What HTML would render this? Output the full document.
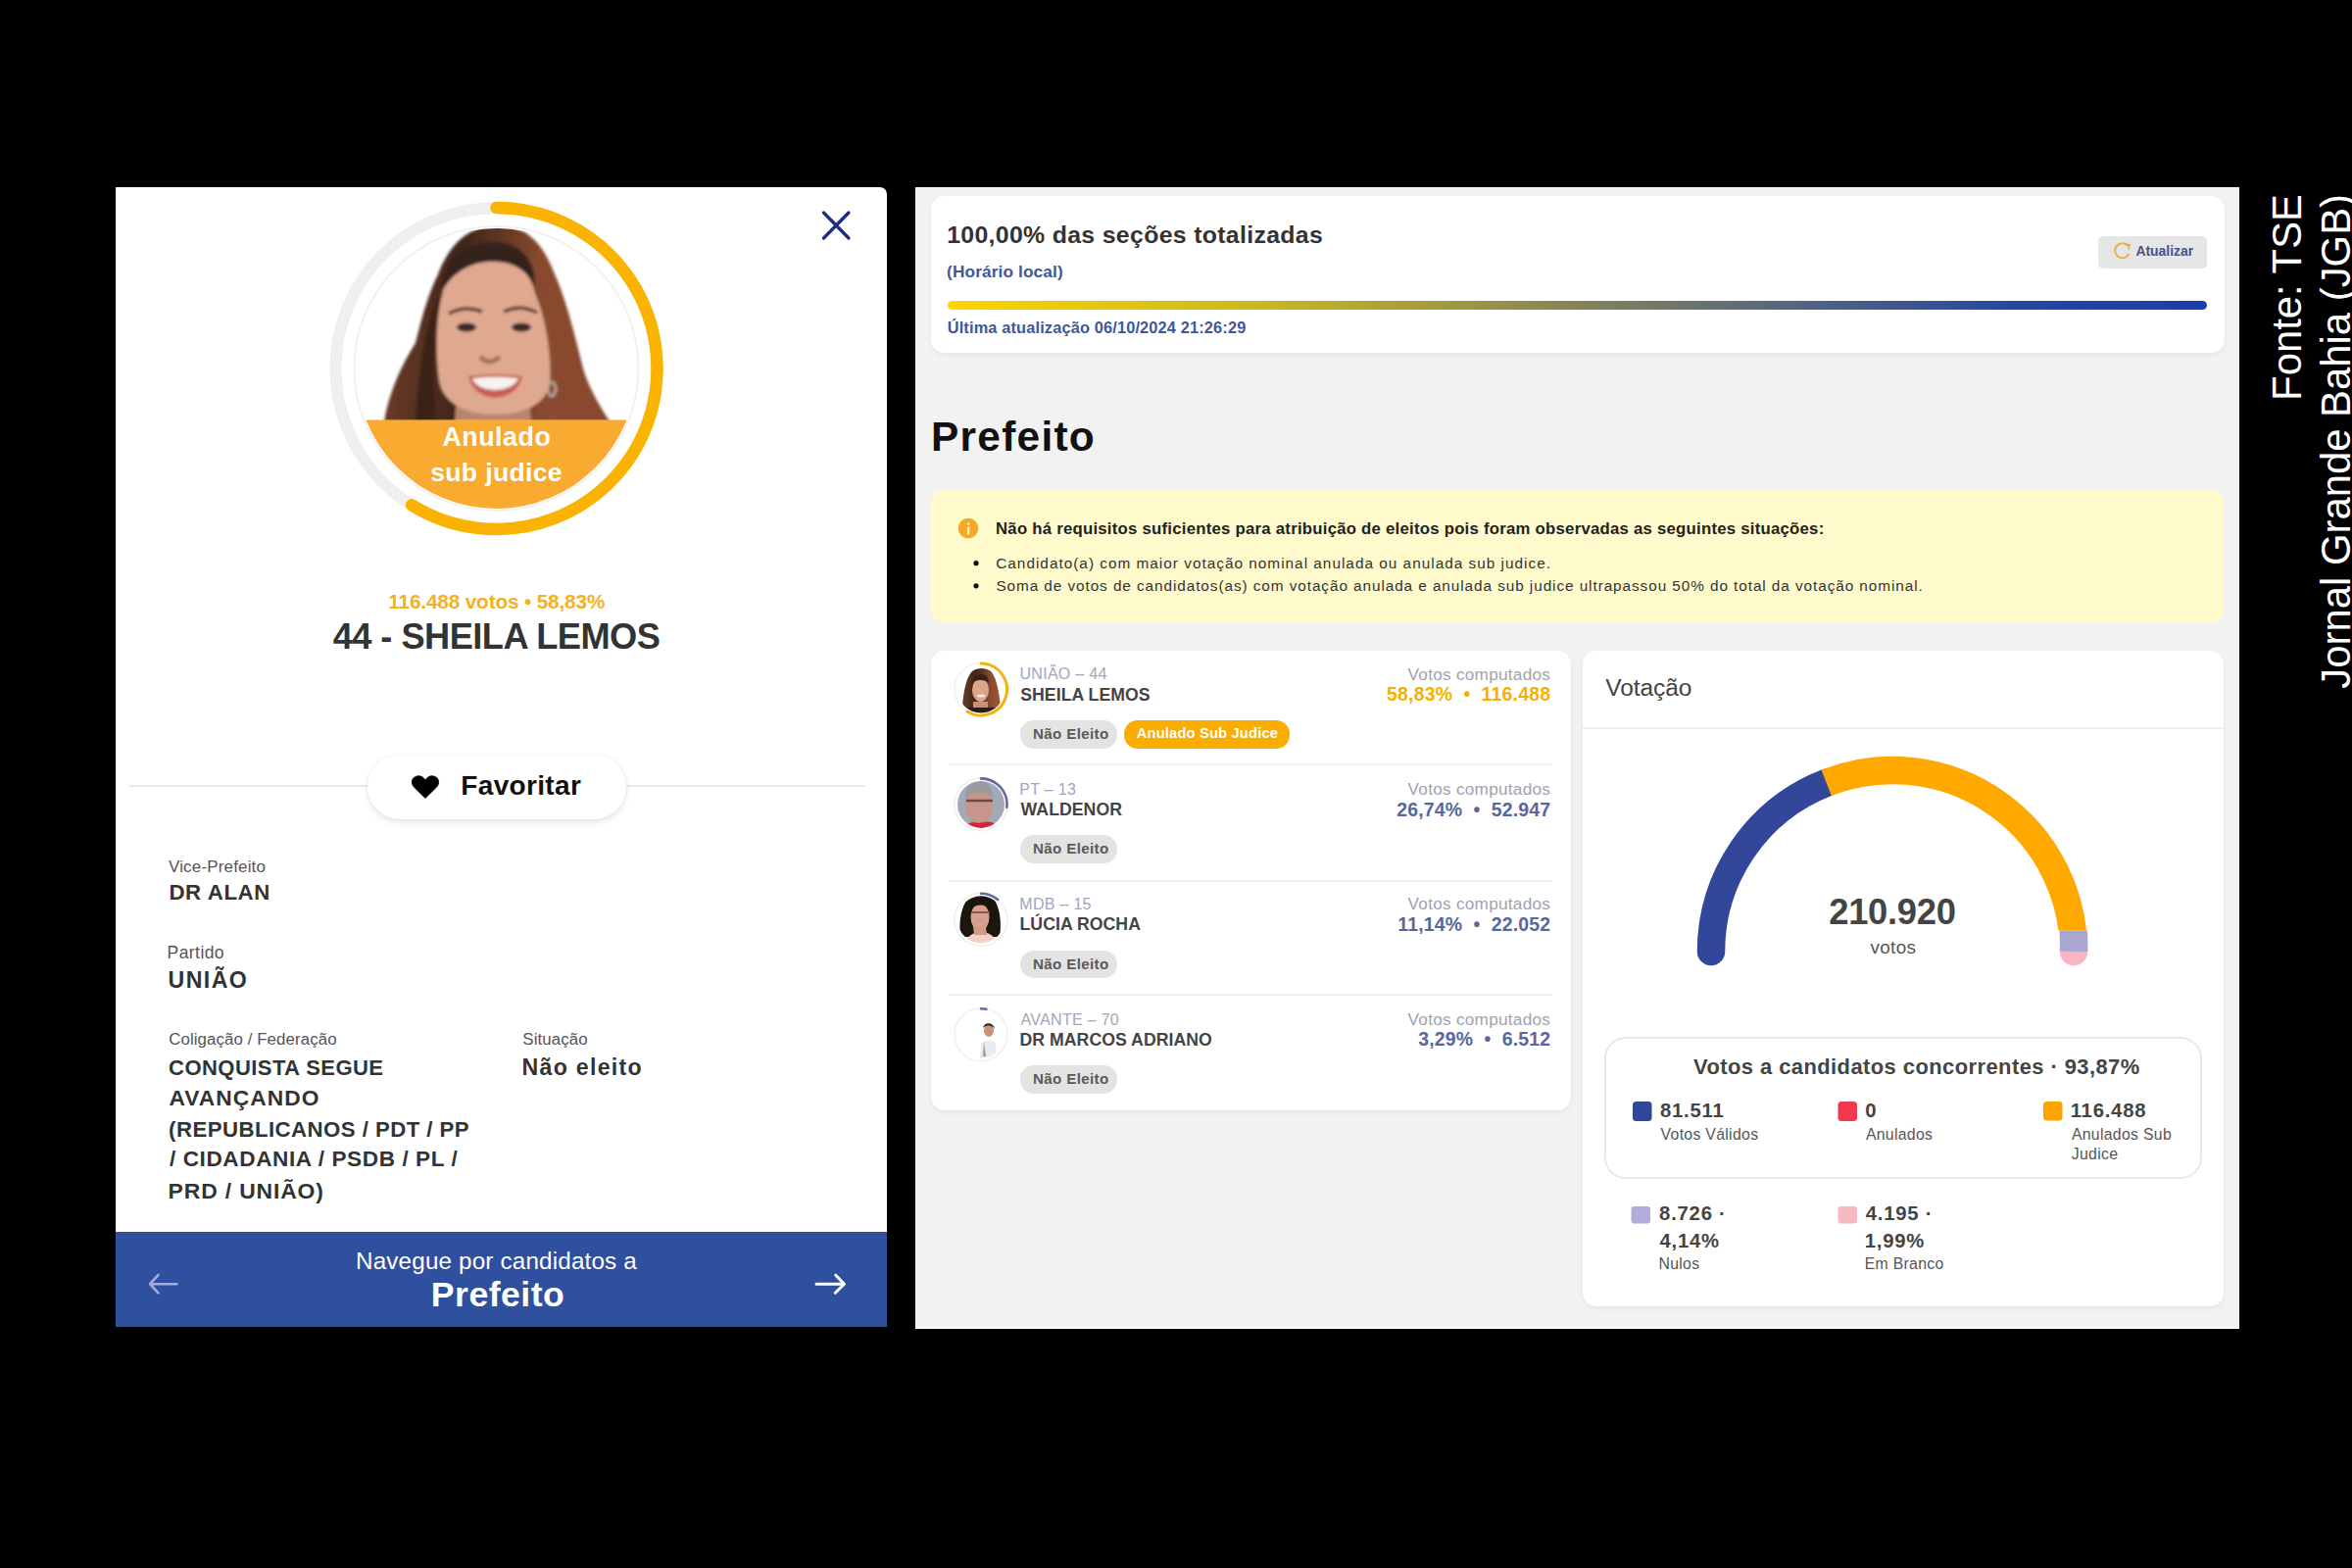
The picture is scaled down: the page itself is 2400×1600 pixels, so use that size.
<!DOCTYPE html>
<html><head><meta charset="utf-8">
<style>
html,body{margin:0;padding:0;width:2400px;height:1600px;overflow:hidden;background:#000;font-family:"Liberation Sans",sans-serif}
.t{position:absolute;white-space:pre;font-family:"Liberation Sans",sans-serif}
.a{position:absolute}
</style></head><body>
<!-- LEFT PANEL -->
<div class="a" style="left:118px;top:191px;width:787px;height:1163px;background:#fff;border-top-right-radius:7px"></div>
<div class="a" style="left:118px;top:1257px;width:787px;height:97px;background:#2f4f9f"></div>
<div class="a" style="left:132px;top:801px;width:751px;height:2px;background:#e9e9e9"></div>
<div class="a" style="left:375px;top:770px;width:264px;height:66px;background:#fff;border-radius:33px;box-shadow:0 3px 7px rgba(0,0,0,0.10),0 0 3px rgba(0,0,0,0.05)"></div>

<!-- RIGHT PANEL -->
<div class="a" style="left:934px;top:191px;width:1351px;height:1165px;background:#f2f2f2;box-sizing:border-box;border-right:1.5px solid #fbfbfb;border-bottom:1.5px solid #fbfbfb"></div>
<div class="a" style="left:950px;top:200px;width:1320px;height:159.5px;background:#fff;border-radius:14px;box-shadow:0 2px 5px rgba(0,0,0,0.06)"></div>
<div class="a" style="left:2141px;top:241px;width:111px;height:33px;background:#e6e6e6;border-radius:5px"></div>
<div class="a" style="left:967px;top:306.5px;width:1285px;height:9.5px;border-radius:5px;background:linear-gradient(90deg,#ffd400 0%,#c9b81e 25%,#8a8752 48%,#4d6088 70%,#2447a0 85%,#1a3eab 100%)"></div>
<div class="a" style="left:950px;top:500px;width:1319px;height:134.5px;background:#fffacb;border-radius:12px"></div>
<div class="a" style="left:950px;top:664px;width:653px;height:468.5px;background:#fff;border-radius:14px;box-shadow:0 2px 5px rgba(0,0,0,0.06)"></div>
<div class="a" style="left:968px;top:778.5px;width:616px;height:2px;background:#f0f0f0"></div>
<div class="a" style="left:968px;top:898px;width:616px;height:2px;background:#f0f0f0"></div>
<div class="a" style="left:968px;top:1014px;width:616px;height:2px;background:#f0f0f0"></div>
<div class="a" style="left:1041px;top:735px;width:99px;height:28.5px;background:#e3e3e3;border-radius:14px"></div>
<div class="a" style="left:1147px;top:735px;width:169px;height:28.5px;background:#f9ad00;border-radius:14px"></div>
<div class="a" style="left:1041px;top:852.4px;width:99px;height:28.5px;background:#e3e3e3;border-radius:14px"></div>
<div class="a" style="left:1041px;top:969.8px;width:99px;height:28.5px;background:#e3e3e3;border-radius:14px"></div>
<div class="a" style="left:1041px;top:1087.2px;width:99px;height:28.5px;background:#e3e3e3;border-radius:14px"></div>
<div class="a" style="left:1615px;top:664px;width:654px;height:669px;background:#fff;border-radius:14px;box-shadow:0 2px 5px rgba(0,0,0,0.06)"></div>
<div class="a" style="left:1615px;top:741.5px;width:654px;height:2px;background:#ececec"></div>
<div class="a" style="left:1636.5px;top:1057.8px;width:606.5px;height:141.5px;border:2px solid #e9e9e9;border-radius:22px"></div>

<svg class="a" style="left:0;top:0" width="2400" height="1600" viewBox="0 0 2400 1600">
<defs>
  <clipPath id="bigc"><circle cx="506.5" cy="376" r="143"/></clipPath>
  <clipPath id="c0"><circle cx="1001" cy="703.5" r="24"/></clipPath>
  <clipPath id="c1"><circle cx="1001" cy="820.9" r="24"/></clipPath>
  <clipPath id="c2"><circle cx="1001" cy="938.3" r="24"/></clipPath>
  <clipPath id="c3"><circle cx="1001" cy="1055.7" r="24"/></clipPath>
  <clipPath id="gtop"><rect x="1700" y="700" width="500" height="249.6"/></clipPath>
  <clipPath id="gmid"><rect x="2050" y="949.6" width="120" height="21.4"/></clipPath>
  <filter id="soft" x="-10%" y="-10%" width="120%" height="120%"><feGaussianBlur stdDeviation="1.6"/></filter>
  <filter id="soft2" x="-10%" y="-10%" width="120%" height="120%"><feGaussianBlur stdDeviation="0.6"/></filter>
  <linearGradient id="hairg" x1="0" y1="0" x2="1" y2="0">
    <stop offset="0" stop-color="#6a3a26"/><stop offset="0.35" stop-color="#3e2419"/><stop offset="0.7" stop-color="#874a2e"/><stop offset="1" stop-color="#a05a38"/>
  </linearGradient>
</defs>
<!-- close X -->
<path d="M840.5,217 L866,243 M866,217 L840.5,243" stroke="#1f2e7c" stroke-width="3.3" stroke-linecap="round" fill="none"/>
<!-- big avatar ring -->
<circle cx="506.5" cy="376" r="164" fill="none" stroke="#efefef" stroke-width="12"/>
<circle cx="506.5" cy="376" r="145" fill="none" stroke="#f1f1f1" stroke-width="2"/>
<path d="M506.50,212.00 A164,164 0 1 1 420.08,515.38" fill="none" stroke="#f9b300" stroke-width="12.5" stroke-linecap="round"/>
<g clip-path="url(#bigc)">
<g filter="url(#soft)">
  <path d="M392,430 C397,400 410,372 424,350 C431,322 437,300 447,280 C458,250 478,231 505,230 C532,229 552,242 566,280 C580,312 588,350 596,380 C604,402 613,416 622,430 Z" fill="url(#hairg)"/>
  <path d="M466,405 L464,430 L542,430 L540,405 Z" fill="#b98470"/>
  <path d="M452,298 C452,275 470,262 497,262 C525,262 542,278 546,300 C556,322 563,360 561,390 C558,412 536,423 505,423 C476,423 452,412 448,388 C444,360 445,322 452,298 Z" fill="#dfa98f"/>
  <path d="M450,300 C450,268 472,248 502,247 C528,246 546,262 546,292 C536,272 518,266 500,267 C476,268 458,282 450,300 Z" fill="#36201a"/>
  <path d="M541,262 C558,292 567,342 568,430 L622,430 C613,416 604,402 596,380 C588,350 580,312 566,280 C560,268 552,258 541,262 Z" fill="#88492d"/>
  <path d="M449,300 C442,330 440,380 446,430 L424,430 C427,380 434,330 449,300 Z" fill="#3a2018"/>
    <path d="M458,320 Q474,311 492,318" stroke="#5d3a2c" stroke-width="3.5" fill="none"/>
  <path d="M514,318 Q531,310 548,319" stroke="#5d3a2c" stroke-width="3.5" fill="none"/>
  <ellipse cx="476" cy="334" rx="10" ry="4.5" fill="#3a2a24"/>
  <ellipse cx="532" cy="334" rx="10" ry="4.5" fill="#3a2a24"/>
  <path d="M490,364 Q499,374 510,364" stroke="#a8705a" stroke-width="5" fill="none"/>
  <path d="M478,384 Q505,380 533,384 Q528,404 505,406 Q483,404 478,384 Z" fill="#c85c55"/>
  <path d="M482,386 Q505,383 529,386 Q524,397 505,398 Q486,397 482,386 Z" fill="#f8f2ee"/>
  <ellipse cx="563" cy="397" rx="4" ry="7" fill="none" stroke="#b8aca6" stroke-width="2.5"/>
  </g>
  <rect x="360" y="428.5" width="300" height="100" fill="#f8ab30"/>
</g>
<!-- heart -->
<path transform="translate(420,791.5)" d="M14,23 L2.6,11.8 C-1,8 -0.5,1.6 5.8,0.4 C9.6,-0.2 12.4,1.8 14,4.6 C15.6,1.8 18.4,-0.2 22.2,0.4 C28.5,1.6 29,8 25.4,11.8 Z" fill="#000" stroke="#000" stroke-width="0.8" stroke-linejoin="round"/>
<!-- footer arrows -->
<path d="M180.5,1310.2 H153.5 M161.5,1301 L153,1310.2 L161.5,1319.3" stroke="#a3acd8" stroke-width="2.6" fill="none" stroke-linecap="round" stroke-linejoin="round"/>
<path d="M833,1310.2 H861 M852.8,1301.2 L861.5,1310.2 L852.3,1319.3" stroke="#ffffff" stroke-width="3" fill="none" stroke-linecap="round" stroke-linejoin="round"/>
<!-- atualizar icon -->
<path d="M2171.5,251 A7.5,7.5 0 1 0 2172.5,259" fill="none" stroke="#e4b24a" stroke-width="2"/>
<path d="M2168.5,249 L2173,250 L2172,254.5" fill="none" stroke="#e4b24a" stroke-width="1.8"/>
<!-- info icon -->
<circle cx="988" cy="539" r="10.3" fill="#f5a828"/>
<rect x="987" y="537.5" width="2.4" height="8" fill="#fff6d8"/>
<circle cx="988.2" cy="534.6" r="1.3" fill="#fff6d8"/>
<circle cx="996" cy="574.7" r="2.6" fill="#111"/>
<circle cx="996" cy="597.8" r="2.6" fill="#111"/>
<!-- small avatars -->
<circle cx="1001" cy="703.5" r="27" fill="none" stroke="#f0f0f0" stroke-width="1.5"/>
<circle cx="1001" cy="820.9" r="27" fill="none" stroke="#f0f0f0" stroke-width="1.5"/>
<circle cx="1001" cy="938.3" r="27" fill="none" stroke="#f0f0f0" stroke-width="1.5"/>
<circle cx="1001" cy="1055.7" r="27" fill="none" stroke="#f0f0f0" stroke-width="1.5"/>
<g clip-path="url(#c0)">
<g filter="url(#soft2)">
  <path d="M982,728 C982,712 985,692 992,685 C997,681 1006,681 1011,685 C1018,692 1020,712 1022,728 Z" fill="url(#hairg)"/>
  <path d="M993,716 L993,728 L1008,728 L1008,716 Z" fill="#c99078"/>
  <ellipse cx="1000.5" cy="704" rx="8.5" ry="12" fill="#dca58c"/>
  <path d="M992,697 C993,690 997,688 1001,688 C1006,688 1009,691 1009,697 C1005,693 996,693 992,697 Z" fill="#3e2419"/>
  <ellipse cx="1001" cy="710" rx="4" ry="1.5" fill="#f4ece8"/>
  <rect x="985" y="722" width="32" height="8" fill="#2e1e1c"/>
</g></g>
<g clip-path="url(#c1)">
<g filter="url(#soft2)">
  <rect x="975" y="795" width="52" height="52" fill="#a3a9b6"/>
  <ellipse cx="999" cy="822" rx="14" ry="17" fill="#c8958a"/>
  <path d="M985,815 C985,802 992,797 999,797 C1007,797 1013,802 1013,815 C1009,806 990,806 985,815 Z" fill="#9a9aa0"/>
  <path d="M986,817 H1013" stroke="#6a4a40" stroke-width="2.5"/>
  <path d="M991,832 Q999,842 1008,832 L1008,840 Q999,846 991,840 Z" fill="#b89a8a"/>
  <path d="M980,847 C984,840 992,838 999,840 C1006,838 1014,836 1022,847 Z" fill="#d8203a"/>
</g></g>
<g clip-path="url(#c2)">
<g filter="url(#soft2)">
  <path d="M980,956 C978,940 981,922 990,915 C998,910 1008,911 1014,917 C1021,927 1022,944 1020,956 Z" fill="#1a1210"/>
  <ellipse cx="1000" cy="936" rx="9.5" ry="14" fill="#d79f8e"/>
  <path d="M990,928 C991,919 997,916 1001,916 C1007,916 1011,920 1011,928 C1005,922 996,922 990,928 Z" fill="#1a1210"/>
  <path d="M991,931 H1010" stroke="#8a5a46" stroke-width="2"/>
  <path d="M983,966 C986,955 993,951 1001,951 C1009,951 1016,955 1019,966 Z" fill="#f5cfc8"/>
  <path d="M993,946 L994,954 L1007,954 L1006,946 Z" fill="#d39a86"/>
</g></g>
<g clip-path="url(#c3)">
<g filter="url(#soft2)">
  <ellipse cx="1009" cy="1051.5" rx="5" ry="6.5" fill="#c89478"/>
  <path d="M1003.5,1049 C1003,1043 1014,1042 1015,1050 C1013,1046 1006,1045 1003.5,1049 Z" fill="#3a2a22"/>
  <path d="M1000,1080 L1001,1066 C1003,1060 1015,1060 1016,1066 L1017,1080 Z" fill="#ebeaee"/>
  <path d="M1004,1063 L1003,1078 L1006,1078 Z" fill="#9a9a9a"/>
</g></g>
<path d="M1001.00,677.00 A26.5,26.5 0 1 1 987.04,726.03" fill="none" stroke="#f2b510" stroke-width="3" stroke-linecap="round"/>
<path d="M1001.00,794.40 A26.5,26.5 0 0 1 1027.34,823.79" fill="none" stroke="#666b9e" stroke-width="2.6" stroke-linecap="round"/>
<path d="M1001.00,911.80 A26.5,26.5 0 0 1 1018.07,918.03" fill="none" stroke="#666b9e" stroke-width="2.6" stroke-linecap="round"/>
<path d="M1001.00,1029.20 A26.5,26.5 0 0 1 1006.44,1029.76" fill="none" stroke="#666b9e" stroke-width="2.6" stroke-linecap="round"/>
<!-- gauge -->
<path d="M1746.00,971.00 A185,185 0 0 1 1863.65,798.70" fill="none" stroke="#33479a" stroke-width="28.5" stroke-linecap="round"/>
<path d="M2115.99,969.39 A185,185 0 0 1 2116.00,971.00" fill="none" stroke="#f8b6c2" stroke-width="28.5" stroke-linecap="round"/>
<path d="M1863.65,798.70 A185,185 0 0 1 2116.00,971.00" fill="none" stroke="#ffa800" stroke-width="28.5" clip-path="url(#gtop)"/>
<path d="M2105,900 A185,185 0 0 1 2116.00,971.00" fill="none" stroke="#aaa6d2" stroke-width="28.5" clip-path="url(#gmid)"/>
<!-- legend squares -->
<rect x="1666" y="1124" width="19.5" height="20" rx="3.5" fill="#2e4796"/>
<rect x="1875.5" y="1124" width="19.5" height="20" rx="3.5" fill="#f0394f"/>
<rect x="2085" y="1124" width="19.5" height="19.5" rx="3.5" fill="#fea400"/>
<rect x="1664.5" y="1231" width="19.5" height="17.5" rx="3" fill="#b1addb"/>
<rect x="1875.5" y="1231" width="19.5" height="17.5" rx="3" fill="#f8b8c3"/>
</svg>

<div class="t" style="left:396.26px;top:604.38px;font-size:20.72px;line-height:20.72px;letter-spacing:-0.130px;font-weight:bold;color:#f4b11e">116.488 votos • 58,83%</div>
<div class="t" style="left:339.64px;top:631.90px;font-size:36.23px;line-height:36.23px;letter-spacing:-0.535px;font-weight:bold;color:#333333">44 - SHEILA LEMOS</div>
<div class="t" style="left:451.46px;top:433.24px;font-size:26.77px;line-height:26.77px;letter-spacing:0.547px;font-weight:bold;color:#ffffff">Anulado</div>
<div class="t" style="left:439.20px;top:469.01px;font-size:26.57px;line-height:26.57px;letter-spacing:0.343px;font-weight:bold;color:#ffffff">sub judice</div>
<div class="t" style="left:470.32px;top:788.25px;font-size:27.95px;line-height:27.95px;letter-spacing:0.368px;font-weight:bold;color:#111111">Favoritar</div>
<div class="t" style="left:172.00px;top:875.55px;font-size:17.00px;line-height:17.00px;letter-spacing:0.158px;font-weight:normal;color:#555555">Vice-Prefeito</div>
<div class="t" style="left:172.46px;top:900.38px;font-size:22.26px;line-height:22.26px;letter-spacing:0.592px;font-weight:bold;color:#333333">DR ALAN</div>
<div class="t" style="left:170.60px;top:964.42px;font-size:17.51px;line-height:17.51px;letter-spacing:0.427px;font-weight:normal;color:#555555">Partido</div>
<div class="t" style="left:171.61px;top:988.91px;font-size:23.17px;line-height:23.17px;letter-spacing:1.406px;font-weight:bold;color:#333333">UNIÃO</div>
<div class="t" style="left:172.16px;top:1053.37px;font-size:16.85px;line-height:16.85px;letter-spacing:0.094px;font-weight:normal;color:#555555">Coligação / Federação</div>
<div class="t" style="left:533.33px;top:1053.38px;font-size:16.85px;line-height:16.85px;letter-spacing:0.101px;font-weight:normal;color:#555555">Situação</div>
<div class="t" style="left:172.12px;top:1078.76px;font-size:22.05px;line-height:22.05px;letter-spacing:0.411px;font-weight:bold;color:#333333">CONQUISTA SEGUE</div>
<div class="t" style="left:172.54px;top:1109.14px;font-size:22.78px;line-height:22.78px;letter-spacing:1.044px;font-weight:bold;color:#333333">AVANÇANDO</div>
<div class="t" style="left:172.11px;top:1141.61px;font-size:22.22px;line-height:22.22px;letter-spacing:0.444px;font-weight:bold;color:#333333">(REPUBLICANOS / PDT / PP</div>
<div class="t" style="left:173.00px;top:1172.30px;font-size:22.58px;line-height:22.58px;letter-spacing:0.588px;font-weight:bold;color:#333333">/ CIDADANIA / PSDB / PL /</div>
<div class="t" style="left:171.62px;top:1204.02px;font-size:22.92px;line-height:22.92px;letter-spacing:0.854px;font-weight:bold;color:#333333">PRD / UNIÃO)</div>
<div class="t" style="left:532.61px;top:1077.81px;font-size:23.17px;line-height:23.17px;letter-spacing:1.267px;font-weight:bold;color:#333333">Não eleito</div>
<div class="t" style="left:363.06px;top:1275.23px;font-size:24.20px;line-height:24.20px;letter-spacing:0.186px;font-weight:normal;color:#ffffff">Navegue por candidatos a</div>
<div class="t" style="left:439.86px;top:1303.99px;font-size:35.66px;line-height:35.66px;letter-spacing:0.454px;font-weight:bold;color:#ffffff">Prefeito</div>
<div class="t" style="left:966.21px;top:227.89px;font-size:24.84px;line-height:24.84px;letter-spacing:0.328px;font-weight:bold;color:#333333">100,00% das seções totalizadas</div>
<div class="t" style="left:966.11px;top:268.75px;font-size:17.23px;line-height:17.23px;letter-spacing:0.131px;font-weight:bold;color:#41579c">(Horário local)</div>
<div class="t" style="left:966.72px;top:326.08px;font-size:16.38px;line-height:16.38px;letter-spacing:0.145px;font-weight:bold;color:#41579c">Última atualização 06/10/2024 21:26:29</div>
<div class="t" style="left:2179.42px;top:249.87px;font-size:13.91px;line-height:13.91px;letter-spacing:-0.006px;font-weight:bold;color:#45528c">Atualizar</div>
<div class="t" style="left:950.06px;top:424.55px;font-size:42.41px;line-height:42.41px;letter-spacing:1.251px;font-weight:bold;color:#111111">Prefeito</div>
<div class="t" style="left:1016.00px;top:532.37px;font-size:16.74px;line-height:16.74px;letter-spacing:0.247px;font-weight:bold;color:#222222">Não há requisitos suficientes para atribuição de eleitos pois foram observadas as seguintes situações:</div>
<div class="t" style="left:1016.23px;top:567.26px;font-size:15.34px;line-height:15.34px;letter-spacing:1.014px;font-weight:normal;color:#333333">Candidato(a) com maior votação nominal anulada ou anulada sub judice.</div>
<div class="t" style="left:1016.39px;top:590.46px;font-size:15.34px;line-height:15.34px;letter-spacing:0.929px;font-weight:normal;color:#333333">Soma de votos de candidatos(as) com votação anulada e anulada sub judice ultrapassou 50% do total da votação nominal.</div>
<div class="t" style="left:1040.48px;top:680.39px;font-size:16.01px;line-height:16.01px;letter-spacing:0.294px;font-weight:normal;color:#a3a6b8">UNIÃO – 44</div>
<div class="t" style="left:1041.25px;top:700.67px;font-size:17.68px;line-height:17.68px;letter-spacing:0.035px;font-weight:bold;color:#444444">SHEILA LEMOS</div>
<div class="t" style="left:1436.60px;top:679.60px;font-size:17.17px;line-height:17.17px;letter-spacing:0.276px;font-weight:normal;color:#9ea2b3">Votos computados</div>
<div class="t" style="left:1415.12px;top:699.10px;font-size:19.41px;line-height:19.41px;letter-spacing:0.210px;font-weight:bold;color:#f5b000">58,83%  •  116.488</div>
<div class="t" style="left:1053.99px;top:740.82px;font-size:15.15px;line-height:15.15px;letter-spacing:0.353px;font-weight:bold;color:#5a5a5a">Não Eleito</div>
<div class="t" style="left:1040.32px;top:797.79px;font-size:16.01px;line-height:16.01px;letter-spacing:0.294px;font-weight:normal;color:#a3a6b8">PT – 13</div>
<div class="t" style="left:1041.60px;top:818.07px;font-size:17.68px;line-height:17.68px;letter-spacing:0.035px;font-weight:bold;color:#444444">WALDENOR</div>
<div class="t" style="left:1436.60px;top:797.00px;font-size:17.17px;line-height:17.17px;letter-spacing:0.276px;font-weight:normal;color:#9ea2b3">Votos computados</div>
<div class="t" style="left:1425.25px;top:816.50px;font-size:19.41px;line-height:19.41px;letter-spacing:0.210px;font-weight:bold;color:#56689c">26,74%  •  52.947</div>
<div class="t" style="left:1053.99px;top:858.22px;font-size:15.15px;line-height:15.15px;letter-spacing:0.353px;font-weight:bold;color:#5a5a5a">Não Eleito</div>
<div class="t" style="left:1040.32px;top:915.19px;font-size:16.01px;line-height:16.01px;letter-spacing:0.294px;font-weight:normal;color:#a3a6b8">MDB – 15</div>
<div class="t" style="left:1040.54px;top:935.47px;font-size:17.68px;line-height:17.68px;letter-spacing:0.035px;font-weight:bold;color:#444444">LÚCIA ROCHA</div>
<div class="t" style="left:1436.60px;top:914.40px;font-size:17.17px;line-height:17.17px;letter-spacing:0.276px;font-weight:normal;color:#9ea2b3">Votos computados</div>
<div class="t" style="left:1426.32px;top:933.90px;font-size:19.41px;line-height:19.41px;letter-spacing:0.210px;font-weight:bold;color:#56689c">11,14%  •  22.052</div>
<div class="t" style="left:1053.99px;top:975.62px;font-size:15.15px;line-height:15.15px;letter-spacing:0.353px;font-weight:bold;color:#5a5a5a">Não Eleito</div>
<div class="t" style="left:1041.60px;top:1032.59px;font-size:16.01px;line-height:16.01px;letter-spacing:0.294px;font-weight:normal;color:#a3a6b8">AVANTE – 70</div>
<div class="t" style="left:1040.54px;top:1052.87px;font-size:17.68px;line-height:17.68px;letter-spacing:0.035px;font-weight:bold;color:#444444">DR MARCOS ADRIANO</div>
<div class="t" style="left:1436.60px;top:1031.80px;font-size:17.17px;line-height:17.17px;letter-spacing:0.276px;font-weight:normal;color:#9ea2b3">Votos computados</div>
<div class="t" style="left:1447.26px;top:1051.30px;font-size:19.41px;line-height:19.41px;letter-spacing:0.210px;font-weight:bold;color:#56689c">3,29%  •  6.512</div>
<div class="t" style="left:1053.99px;top:1093.02px;font-size:15.15px;line-height:15.15px;letter-spacing:0.353px;font-weight:bold;color:#5a5a5a">Não Eleito</div>
<div class="t" style="left:1159.70px;top:741.16px;font-size:14.75px;line-height:14.75px;letter-spacing:0.146px;font-weight:bold;color:#ffffff">Anulado Sub Judice</div>
<div class="t" style="left:1638.30px;top:690.38px;font-size:24.49px;line-height:24.49px;letter-spacing:-0.073px;font-weight:normal;color:#444444">Votação</div>
<div class="t" style="left:1866.21px;top:912.58px;font-size:36.38px;line-height:36.38px;letter-spacing:-0.298px;font-weight:bold;color:#444444">210.920</div>
<div class="t" style="left:1908.50px;top:958.47px;font-size:18.85px;line-height:18.85px;letter-spacing:0.350px;font-weight:normal;color:#555555">votos</div>
<div class="t" style="left:1728.00px;top:1077.58px;font-size:21.90px;line-height:21.90px;letter-spacing:0.453px;font-weight:bold;color:#444444">Votos a candidatos concorrentes · 93,87%</div>
<div class="t" style="left:1693.99px;top:1123.15px;font-size:20.30px;line-height:20.30px;letter-spacing:0.774px;font-weight:bold;color:#444444">81.511</div>
<div class="t" style="left:1694.60px;top:1150.25px;font-size:15.82px;line-height:15.82px;letter-spacing:0.302px;font-weight:normal;color:#555555">Votos Válidos</div>
<div class="t" style="left:1903.29px;top:1123.15px;font-size:20.30px;line-height:20.30px;letter-spacing:0.774px;font-weight:bold;color:#444444">0</div>
<div class="t" style="left:1903.90px;top:1150.25px;font-size:15.82px;line-height:15.82px;letter-spacing:0.302px;font-weight:normal;color:#555555">Anulados</div>
<div class="t" style="left:2112.68px;top:1123.05px;font-size:20.30px;line-height:20.30px;letter-spacing:0.774px;font-weight:bold;color:#444444">116.488</div>
<div class="t" style="left:2113.90px;top:1150.35px;font-size:15.82px;line-height:15.82px;letter-spacing:0.302px;font-weight:normal;color:#555555">Anulados Sub</div>
<div class="t" style="left:2113.74px;top:1169.55px;font-size:15.82px;line-height:15.82px;letter-spacing:0.302px;font-weight:normal;color:#555555">Judice</div>
<div class="t" style="left:1693.09px;top:1228.25px;font-size:20.30px;line-height:20.30px;letter-spacing:0.774px;font-weight:bold;color:#444444">8.726 ·</div>
<div class="t" style="left:1693.50px;top:1255.75px;font-size:20.30px;line-height:20.30px;letter-spacing:0.774px;font-weight:bold;color:#444444">4,14%</div>
<div class="t" style="left:1692.43px;top:1281.95px;font-size:15.82px;line-height:15.82px;letter-spacing:0.302px;font-weight:normal;color:#555555">Nulos</div>
<div class="t" style="left:1903.70px;top:1228.25px;font-size:20.30px;line-height:20.30px;letter-spacing:0.774px;font-weight:bold;color:#444444">4.195 ·</div>
<div class="t" style="left:1902.68px;top:1255.75px;font-size:20.30px;line-height:20.30px;letter-spacing:0.774px;font-weight:bold;color:#444444">1,99%</div>
<div class="t" style="left:1902.63px;top:1281.95px;font-size:15.82px;line-height:15.82px;letter-spacing:0.302px;font-weight:normal;color:#555555">Em Branco</div>

<div class="t" style="left:2309.4px;top:757.5px;width:560px;transform:rotate(-90deg);transform-origin:0 0;font-size:41.85px;line-height:50px;color:#fff;text-align:right;white-space:pre">Fonte: TSE
Jornal Grande Bahia (JGB)</div>
</body></html>
